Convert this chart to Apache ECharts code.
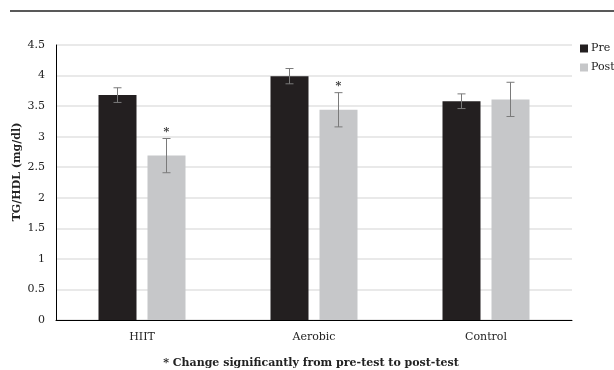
<!DOCTYPE html>
<html><head><meta charset="utf-8">
<script src="https://cdn.jsdelivr.net/npm/echarts@6/dist/echarts.min.js"></script>
<style>html,body{margin:0;padding:0;background:#fff}#c{width:614px;height:370px}</style>
</head><body><div id="c"></div>
<script>
const categories = ['HIIT', 'Aerobic', 'Control'];
const preValues = [3.68, 3.99, 3.58];
const postValues = [2.69, 3.44, 3.61];
const preErr = [0.12, 0.125, 0.12];
const postErr = [0.28, 0.28, 0.28];
const postSignificant = [true, true, false];
const yTicks = [0, 0.5, 1, 1.5, 2, 2.5, 3, 3.5, 4, 4.5];

const FONT = 'DejaVu Serif';
const BAR_W = 38, GAP = 11;

function errSeries(name, vals, errs, offset, sig) {
  return {
    type: 'custom', name: name + ' err', silent: true, z: 5,
    data: vals.map((v, i) => [i, v, errs[i], sig ? (sig[i] ? 1 : 0) : 0]),
    renderItem: function (params, api) {
      const i = api.value(0), v = api.value(1), e = api.value(2), s = api.value(3);
      const c = api.coord([i, v]);
      const x = c[0] + offset;
      const top = api.coord([i, v + e])[1];
      const bot = api.coord([i, v - e])[1];
      const cap = 4;
      const st = { stroke: '#7a7a7a', lineWidth: 1 };
      const ch = [
        { type: 'line', shape: { x1: x, y1: top, x2: x, y2: bot }, style: st },
        { type: 'line', shape: { x1: x - cap, y1: top, x2: x + cap, y2: top }, style: st },
        { type: 'line', shape: { x1: x - cap, y1: bot, x2: x + cap, y2: bot }, style: st }
      ];
      if (s) ch.push({ type: 'text', style: { text: '*', x: x, y: top - 1, align: 'center', verticalAlign: 'bottom', font: 'bold 11px ' + FONT, fill: '#333' } });
      return { type: 'group', children: ch };
    }
  };
}

const chart = echarts.init(document.getElementById('c'));
chart.setOption({
  animation: false,
  grid: { left: 56, right: 42, top: 45, bottom: 50, outerBoundsMode: 'none', containLabel: false },
  legend: {
    orient: 'vertical', left: 580, top: 43, padding: 0, itemWidth: 8, itemHeight: 8, itemGap: 8,
    icon: 'rect',
    textStyle: { fontFamily: FONT, fontSize: 11, color: '#222', padding: [0, 0, 0, -2] },
    data: ['Pre', 'Post']
  },
  xAxis: {
    type: 'category', data: categories,
    axisLine: { lineStyle: { color: '#000', width: 1 } },
    axisTick: { show: false },
    axisLabel: { fontFamily: FONT, fontSize: 11, color: '#222', margin: 12 }
  },
  yAxis: {
    type: 'value', min: yTicks[0], max: yTicks[yTicks.length - 1], interval: 0.5,
    axisLine: { show: true, lineStyle: { color: '#000', width: 1 } },
    axisTick: { show: false },
    axisLabel: { fontFamily: FONT, fontSize: 11, color: '#222', margin: 11 },
    splitLine: { lineStyle: { color: '#e2e2e2', width: 1.5 } }
  },
  series: [
    { type: 'bar', name: 'Pre', data: preValues, barWidth: BAR_W, barGap: (GAP / BAR_W * 100) + '%', itemStyle: { color: '#231f20' } },
    { type: 'bar', name: 'Post', data: postValues, barWidth: BAR_W, itemStyle: { color: '#c6c7c9' } },
    errSeries('Pre', preValues, preErr, -(BAR_W + GAP) / 2, null),
    errSeries('Post', postValues, postErr, (BAR_W + GAP) / 2, postSignificant)
  ],
  graphic: [
    { type: 'line', shape: { x1: 10, y1: 11, x2: 614, y2: 11 }, style: { stroke: '#222', lineWidth: 1.5 } },
    { type: 'text', x: 17, y: 172, rotation: Math.PI / 2, style: { text: 'TG/HDL (mg/dl)', font: 'bold 11px ' + FONT, fill: '#222', align: 'center', verticalAlign: 'middle' } },
    { type: 'text', x: 311, y: 363, style: { text: '* Change significantly from pre-test to post-test', font: 'bold 11px ' + FONT, fill: '#222', align: 'center', verticalAlign: 'middle' } }
  ]
});
</script></body></html>
